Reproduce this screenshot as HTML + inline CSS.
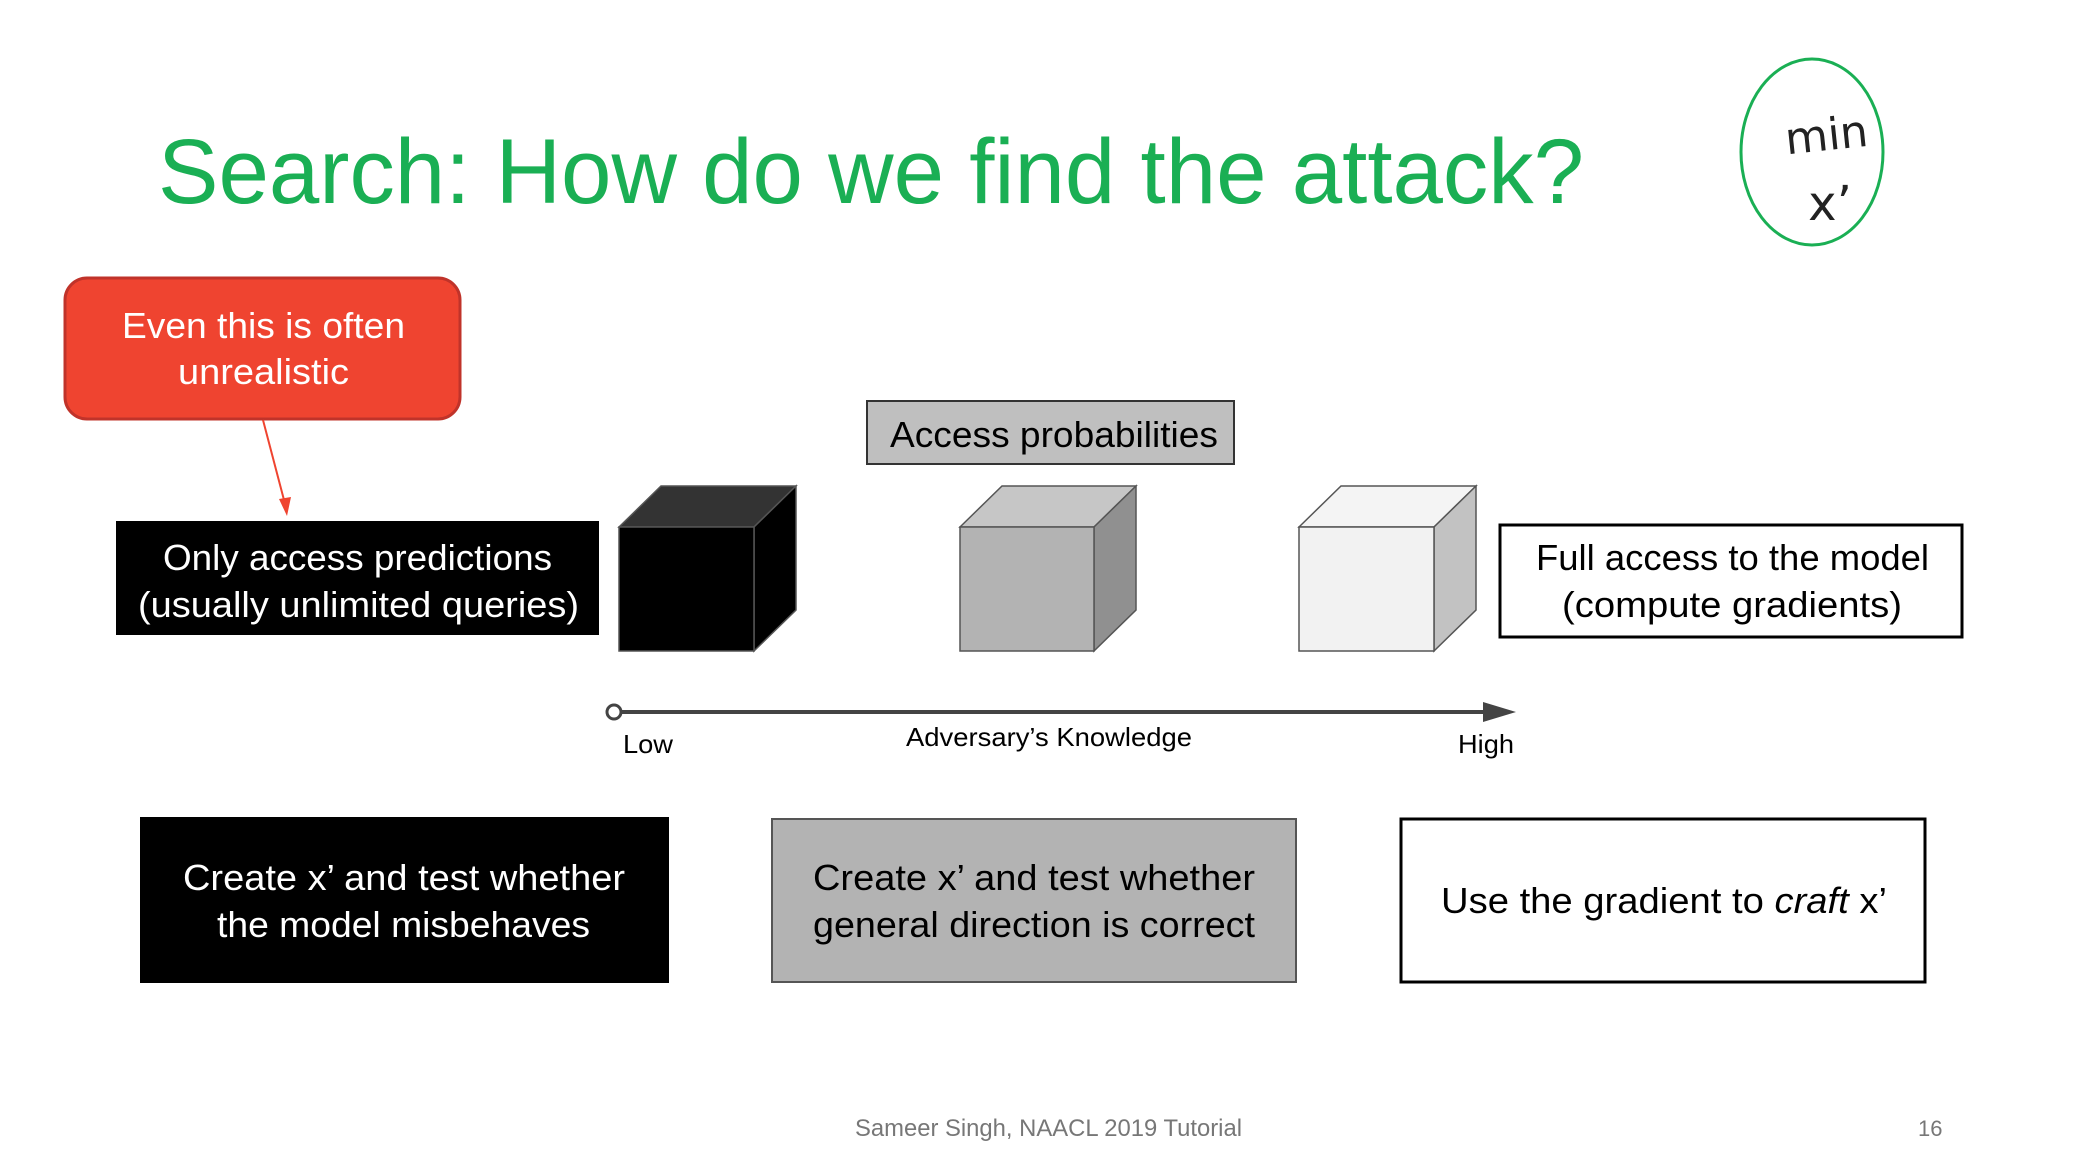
<!DOCTYPE html>
<html><head><meta charset="utf-8"><style>html,body{margin:0;padding:0;background:#fff}svg{display:block}</style></head>
<body>
<svg width="2086" height="1172" viewBox="0 0 2086 1172" xmlns="http://www.w3.org/2000/svg" font-family="Liberation Sans, sans-serif">
<rect width="2086" height="1172" fill="#fff"/>
<text x="158" y="203" font-size="92" fill="#1aaf54" textLength="1426" lengthAdjust="spacingAndGlyphs">Search: How do we find the attack?</text>
<ellipse cx="1812" cy="152" rx="71" ry="93" fill="none" stroke="#1aaf54" stroke-width="3"/>
<text x="1828" y="150" font-size="44" fill="#222" text-anchor="middle" font-family="DejaVu Sans, sans-serif" transform="rotate(-6 1828 150)">min</text>
<text x="1830" y="220" font-size="48" fill="#222" text-anchor="middle" font-family="DejaVu Sans, sans-serif">x’</text>
<rect x="65" y="278" width="395" height="141" rx="22" fill="#ef4430" stroke="#c0332a" stroke-width="3"/>
<g fill="#fff" font-size="36">
<text x="122" y="338" textLength="283" lengthAdjust="spacingAndGlyphs">Even this is often</text>
<text x="178" y="384" textLength="171" lengthAdjust="spacingAndGlyphs">unrealistic</text>
</g>
<line x1="263" y1="420" x2="284" y2="500" stroke="#ef4430" stroke-width="2"/>
<polygon points="279,499 291,497 287,516" fill="#ef4430"/>
<rect x="116" y="521" width="483" height="114" fill="#000"/>
<g fill="#fff" font-size="36">
<text x="163" y="570" textLength="389" lengthAdjust="spacingAndGlyphs">Only access predictions</text>
<text x="138" y="617" textLength="441" lengthAdjust="spacingAndGlyphs">(usually unlimited queries)</text>
</g>
<rect x="867" y="401" width="367" height="63" fill="#bfbfbf" stroke="#333" stroke-width="2"/>
<text x="890" y="447" font-size="36" fill="#000" textLength="328" lengthAdjust="spacingAndGlyphs">Access probabilities</text>
<g stroke="#555" stroke-width="1.5">
<polygon points="619,527 661,486 796,486 754,527" fill="#333"/>
<polygon points="754,527 796,486 796,610 754,651" fill="#000"/>
<rect x="619" y="527" width="135" height="124" fill="#000"/>
<polygon points="960,527 1002,486 1136,486 1094,527" fill="#c6c6c6"/>
<polygon points="1094,527 1136,486 1136,610 1094,651" fill="#909090"/>
<rect x="960" y="527" width="134" height="124" fill="#b3b3b3"/>
<polygon points="1299,527 1341,486 1476,486 1434,527" fill="#f4f4f4"/>
<polygon points="1434,527 1476,486 1476,610 1434,651" fill="#c2c2c2"/>
<rect x="1299" y="527" width="135" height="124" fill="#f2f2f2"/>
</g>
<rect x="1500" y="525" width="462" height="112" fill="#fff" stroke="#000" stroke-width="3"/>
<g fill="#000" font-size="36">
<text x="1536" y="570" textLength="393" lengthAdjust="spacingAndGlyphs">Full access to the model</text>
<text x="1562" y="617" textLength="340" lengthAdjust="spacingAndGlyphs">(compute gradients)</text>
</g>
<line x1="620" y1="712" x2="1488" y2="712" stroke="#444" stroke-width="4"/>
<polygon points="1483,702 1516,712 1483,722" fill="#444"/>
<circle cx="614" cy="712" r="7" fill="#fff" stroke="#444" stroke-width="3"/>
<g fill="#000" font-size="26">
<text x="623" y="753" textLength="50" lengthAdjust="spacingAndGlyphs">Low</text>
<text x="906" y="746" textLength="286" lengthAdjust="spacingAndGlyphs">Adversary’s Knowledge</text>
<text x="1458" y="753" textLength="56" lengthAdjust="spacingAndGlyphs">High</text>
</g>
<rect x="140" y="817" width="529" height="166" fill="#000"/>
<g fill="#fff" font-size="36">
<text x="183" y="890" textLength="442" lengthAdjust="spacingAndGlyphs">Create x’ and test whether</text>
<text x="217" y="937" textLength="373" lengthAdjust="spacingAndGlyphs">the model misbehaves</text>
</g>
<rect x="772" y="819" width="524" height="163" fill="#b3b3b3" stroke="#555" stroke-width="2"/>
<g fill="#000" font-size="36">
<text x="813" y="890" textLength="442" lengthAdjust="spacingAndGlyphs">Create x’ and test whether</text>
<text x="813" y="937" textLength="442" lengthAdjust="spacingAndGlyphs">general direction is correct</text>
</g>
<rect x="1401" y="819" width="524" height="163" fill="#fff" stroke="#000" stroke-width="3"/>
<text x="1441" y="913" font-size="36" fill="#000" textLength="446" lengthAdjust="spacingAndGlyphs">Use the gradient to <tspan font-style="italic">craft</tspan> x’</text>
<text x="855" y="1136" font-size="24" fill="#777" textLength="387" lengthAdjust="spacingAndGlyphs">Sameer Singh, NAACL 2019 Tutorial</text>
<text x="1918" y="1136" font-size="22" fill="#777">16</text>
</svg>
</body></html>
